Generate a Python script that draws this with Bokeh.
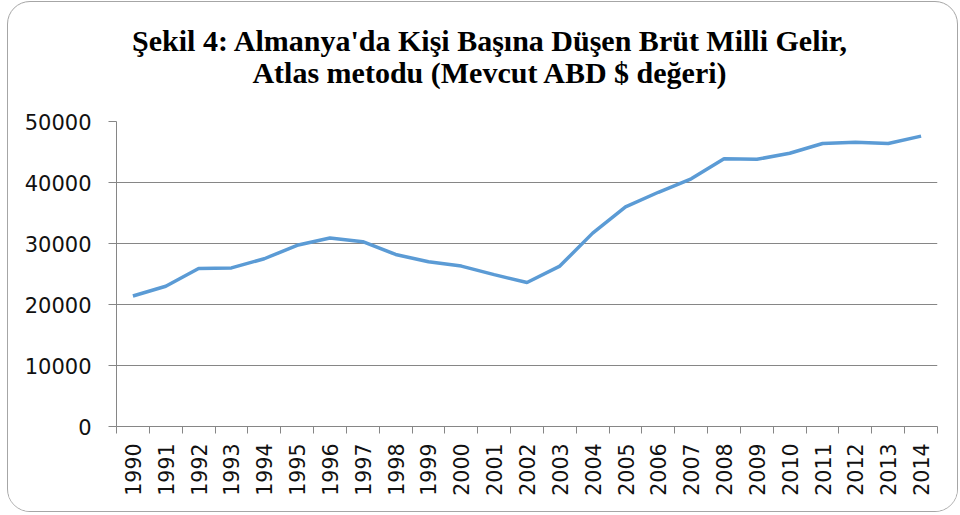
import math
from bokeh.plotting import figure
from bokeh.models import FixedTicker, Range1d, Div
from bokeh.layouts import column
from bokeh.embed import file_html
from bokeh.resources import INLINE

years = list(range(1990, 2015))
gni = [21400, 23000, 25900, 26000, 27500, 29700, 30900, 30300, 28200, 27000,
       26300, 24900, 23600, 26300, 31700, 36000, 38400, 40600, 43900, 43800,
       44800, 46400, 46600, 46400, 47600]
y_ticks = [0, 10000, 20000, 30000, 40000, 50000]
title_lines = ["Şekil 4: Almanya'da Kişi Başına Düşen Brüt Milli Gelir,",
               "Atlas metodu (Mevcut ABD $ değeri)"]

title_html = ("<div style=\"display:block; width:951px; box-sizing:border-box; "
              "text-align:center; font-family:'Liberation Serif', serif; "
              "font-weight:bold; font-size:30px; line-height:32px; color:#000000; "
              "margin:0; padding:23px 0 0 12px;\">" + "<br>".join(title_lines) + "</div>")
title_div = Div(text=title_html, width=951, height=100, margin=0)

p = figure(width=951, height=411, output_backend="svg", toolbar_location=None,
           x_range=Range1d(years[0] - 0.5, years[-1] + 0.5),
           y_range=Range1d(0, 50000),
           min_border_left=108, min_border_right=20, min_border_top=19,
           min_border_bottom=87, margin=0)
p.title = None

p.line(years, gni, line_color="#5B9BD5", line_width=3.5)

grey = "#868686"
p.outline_line_color = None
p.background_fill_color = "white"
p.border_fill_color = "white"

# y axis
p.yaxis.ticker = FixedTicker(ticks=y_ticks, minor_ticks=[])
p.yaxis.axis_line_color = grey
p.yaxis.major_tick_line_color = grey
p.yaxis.major_tick_out = 8
p.yaxis.major_tick_in = 0
p.yaxis.minor_tick_line_color = None
p.yaxis.major_label_text_font = "DejaVu Sans"
p.yaxis.major_label_text_font_size = "21px"
p.yaxis.major_label_text_color = "#111111"
p.yaxis.major_label_standoff = 17
p.yaxis.formatter.use_scientific = False

# x axis
p.xaxis.ticker = FixedTicker(ticks=years, minor_ticks=[y - 0.5 for y in years] + [years[-1] + 0.5])
p.xaxis.axis_line_color = grey
p.xaxis.major_tick_line_color = None
p.xaxis.major_tick_out = 0
p.xaxis.major_tick_in = 0
p.xaxis.minor_tick_line_color = grey
p.xaxis.minor_tick_out = 7
p.xaxis.minor_tick_in = 0
p.xaxis.major_label_orientation = math.pi / 2
p.xaxis.major_label_text_font = "DejaVu Sans"
p.xaxis.major_label_text_font_size = "20.5px"
p.xaxis.major_label_text_color = "#111111"
p.xaxis.major_label_standoff = 10

p.xgrid.grid_line_color = None
p.ygrid.grid_line_color = grey
p.ygrid.grid_line_width = 1
p.ygrid.ticker = FixedTicker(ticks=y_ticks)

layout = column(title_div, p, spacing=0, width=951, height=511,
                styles={"border": "1px solid #a6a6a6", "border-radius": "23px",
                        "overflow": "hidden", "margin-left": "7px", "margin-top": "1px",
                        "background": "white"})

open("out.html", "w").write(file_html(layout, INLINE))
